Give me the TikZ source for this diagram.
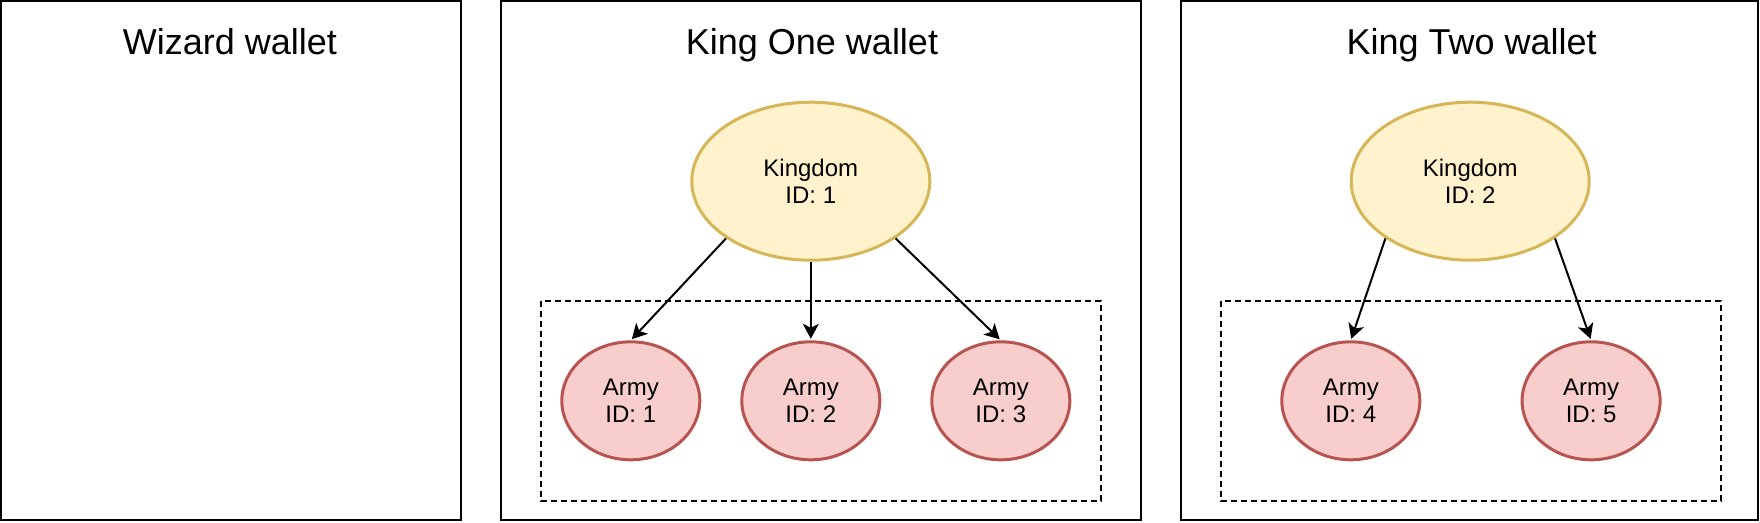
\documentclass[tikz,border=0pt]{standalone}
\usepackage{fontspec}
\setmainfont{Liberation Sans}
\usetikzlibrary{arrows.meta,shapes.geometric}
\definecolor{kfill}{HTML}{FFF2CC}
\definecolor{kdraw}{HTML}{D6B656}
\definecolor{afill}{HTML}{F8CECC}
\definecolor{adraw}{HTML}{B85450}
\tikzset{
  wallet/.style={draw=black, line width=2pt},
  group/.style={draw=black, line width=2pt, dash pattern=on 6pt off 4pt},
  title/.style={anchor=base, inner sep=0pt, font=\fontsize{36}{43}\selectfont},
  kingdom/.style={ellipse, draw=kdraw, fill=kfill, line width=3pt, inner sep=0pt,
    minimum width=238pt, minimum height=158pt, align=center,
    font=\fontsize{24}{27.5}\selectfont},
  army/.style={ellipse, draw=adraw, fill=afill, line width=3pt, inner sep=0pt,
    minimum width=138pt, minimum height=118pt, align=center,
    font=\fontsize{24}{27.5}\selectfont},
  link/.style={draw=black, line width=2pt, shorten >=1.5pt,
    -{Stealth[length=15pt, width=16pt, inset=4pt]}}
}
\begin{document}
\begin{tikzpicture}[x=1pt, y=-1pt]
\useasboundingbox (0,0) rectangle (1760,522);
% wallets
\draw[wallet] (1,1) rectangle (461,520);
\draw[wallet] (500.7,1) rectangle (1140.7,520);
\draw[wallet] (1180.7,1) rectangle (1758.3,520);
\node[title] (tw) at (230,54.3) {Wizard wallet};
\node[title] (t1) at (812,54.3) {King One wallet};
\node[title] (t2) at (1471.7,54.3) {King Two wallet};
% army groups
\draw[group] (541,301) rectangle (1101,501);
\draw[group] (1221,301) rectangle (1721,501);
% nodes
\node[kingdom] (k1) at (810.8,181.2) {Kingdom\\ID: 1};
\node[army] (a1) at (630.8,400.8) {Army\\ID: 1};
\node[army] (a2) at (810.8,400.8) {Army\\ID: 2};
\node[army] (a3) at (1000.8,400.8) {Army\\ID: 3};
\node[kingdom] (k2) at (1470.2,181.2) {Kingdom\\ID: 2};
\node[army] (a4) at (1350.8,400.8) {Army\\ID: 4};
\node[army] (a5) at (1591.1,400.8) {Army\\ID: 5};
% links
\draw[link] (k1.214) -- (a1.north);
\draw[link] (k1.south) -- (a2.north);
\draw[link] (k1.326) -- (a3.north);
\draw[link] (k2.214) -- (a4.north);
\draw[link] (k2.326) -- (a5.north);
\end{tikzpicture}
\end{document}
